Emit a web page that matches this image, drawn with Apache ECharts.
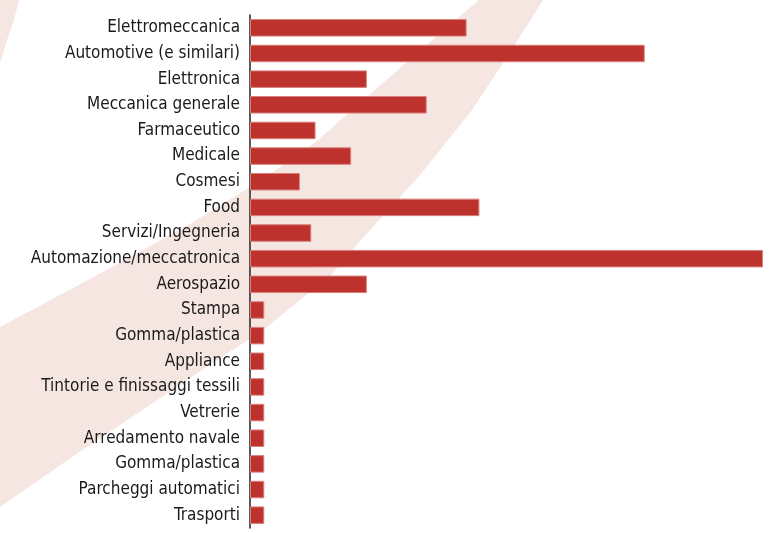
<!DOCTYPE html>
<html>
<head>
<meta charset="utf-8">
<style>
  html, body { margin: 0; padding: 0; background: #ffffff; }
  #chart { width: 779px; height: 533px; }
</style>
<script src="https://cdn.jsdelivr.net/npm/echarts@6/dist/echarts.min.js"></script>
</head>
<body>
<div id="chart"></div>
<script>
// Sectors (top to bottom) and their bar values
const sectors = [
  'Elettromeccanica', 'Automotive (e similari)', 'Elettronica', 'Meccanica generale',
  'Farmaceutico', 'Medicale', 'Cosmesi', 'Food', 'Servizi/Ingegneria',
  'Automazione/meccatronica', 'Aerospazio', 'Stampa', 'Gomma/plastica', 'Appliance',
  'Tintorie e finissaggi tessili', 'Vetrerie', 'Arredamento navale', 'Gomma/plastica',
  'Parcheggi automatici', 'Trasporti'
];
const values = [
  15.2, 27.7, 8.2, 12.4,
  4.6, 7.1, 3.5, 16.1, 4.3,
  36, 8.2, 1, 1, 1,
  1, 1, 1, 1,
  1, 1
];

// Decorative swoosh in the background
const swooshBand = [
  [479, 0], [415, 55], [352, 110], [317, 141], [285, 164], [250, 187],
  [190, 224], [125, 260], [60, 295], [0, 327],
  [0, 507], [75, 455], [150, 405], [217, 360], [262, 331], [300, 300],
  [331, 275], [361, 240], [420, 175], [472, 110], [505, 60], [543, 0]
];
const swooshTip = [[0, 0], [19, 0], [14, 20], [7, 40], [1, 60], [0, 62]];

const chart = echarts.init(document.getElementById('chart'), null, { renderer: 'canvas' });

chart.setOption({
  animation: false,
  backgroundColor: '#ffffff',
  graphic: [
    { type: 'polygon', z: -10, silent: true, shape: { points: swooshBand }, style: { fill: '#f6e6e2' } },
    { type: 'polygon', z: -10, silent: true, shape: { points: swooshTip }, style: { fill: '#f6e6e2' } }
  ],
  grid: { left: 250, right: 16, top: 15, bottom: 5, containLabel: false },
  xAxis: {
    type: 'value',
    min: 0,
    max: 36,
    show: false
  },
  yAxis: {
    type: 'category',
    data: sectors,
    inverse: true,
    axisLine: { show: true, lineStyle: { color: '#222222', width: 1.5 } },
    axisTick: { show: false },
    axisLabel: {
      interval: 0,
      margin: 10,
      color: '#1a1a1a',
      fontSize: 17,
      fontFamily: '"Liberation Sans Narrow", "DejaVu Sans Condensed", sans-serif'
    },
    splitLine: { show: false }
  },
  series: [{
    type: 'bar',
    data: values,
    barWidth: 17.5,
    itemStyle: { color: '#be322e', borderColor: '#d8817d', borderWidth: 1 },
    z: 2
  }]
});
</script>
</body>
</html>
